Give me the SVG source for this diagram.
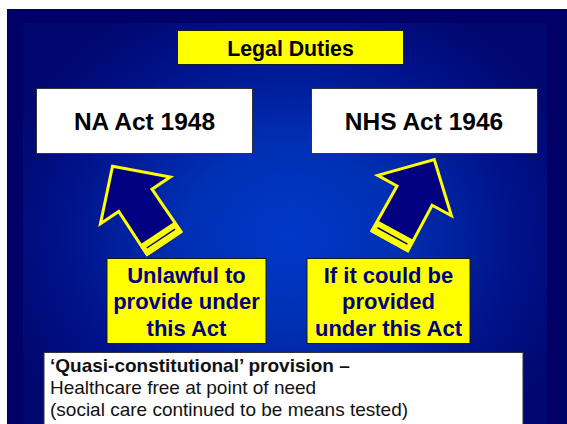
<svg xmlns="http://www.w3.org/2000/svg" width="567" height="424" viewBox="0 0 567 424">
  <defs>
    <radialGradient id="bg" gradientUnits="userSpaceOnUse" cx="290" cy="235" r="300" gradientTransform="translate(290 235) scale(1 0.85) translate(-290 -235)">
      <stop offset="0" stop-color="#0038c8"/>
      <stop offset="0.35" stop-color="#0030b4"/>
      <stop offset="0.75" stop-color="#00128a"/>
      <stop offset="1" stop-color="#000870"/>
    </radialGradient>
    <g id="arrow">
      <polygon points="0,1.5 42,42.5 20,42.5 20.5,94 -20.5,94 -20,42.5 -42,42.5" fill="#000080" stroke="#ffff00" stroke-width="3" stroke-linejoin="miter"/>
      <polygon points="-21.5,82 21.5,82 21.5,95.5 -21.5,95.5" fill="#ffff00"/>
      <line x1="-17" y1="88.5" x2="17" y2="88.5" stroke="#000080" stroke-width="1.5"/>
    </g>
  </defs>
  <style>
    .t { font-family: "Liberation Sans", Arial, sans-serif; font-weight: bold; text-anchor: middle; }
    .ybox { fill: #ffff00; stroke: #1a1a1a; stroke-width: 1; }
    .wbox { fill: #ffffff; stroke: #333333; stroke-width: 1; }
    .navy { fill: #000080; }
    .note { font-family: "Liberation Sans", Arial, sans-serif; font-size: 19px; fill: #111111; }
  </style>

  <rect x="0" y="0" width="567" height="424" fill="#ffffff"/>
  <rect x="7" y="9" width="560" height="415" fill="#000066"/>
  <rect x="23" y="23" width="524" height="401" fill="url(#bg)"/>

  <g id="title">
    <rect class="ybox" x="177.5" y="30.5" width="226" height="34"/>
    <text class="t" x="290.5" y="56" font-size="21.3" fill="#000000">Legal Duties</text>
  </g>

  <g id="na-act">
    <rect class="wbox" x="36.5" y="88.5" width="216" height="65"/>
    <text class="t" x="144.5" y="129.5" font-size="24.5" fill="#000000">NA Act 1948</text>
  </g>

  <g id="nhs-act">
    <rect class="wbox" x="311.5" y="88.5" width="226" height="65"/>
    <text class="t" x="424" y="129.5" font-size="24.5" fill="#000000">NHS Act 1946</text>
  </g>

  <g id="connectors">
    <use href="#arrow" transform="translate(111.7 165) rotate(-33.8)"/>
    <use href="#arrow" transform="translate(435 158.3) rotate(28.7)"/>
  </g>

  <g id="unlawful">
    <rect class="ybox" x="107" y="258.5" width="159" height="85"/>
    <text class="t navy" x="186.5" y="282.5" font-size="22">Unlawful to</text>
    <text class="t navy" x="186.5" y="309" font-size="22">provide under</text>
    <text class="t navy" x="186.5" y="335.5" font-size="22">this Act</text>
  </g>

  <g id="could-be">
    <rect class="ybox" x="307" y="258.5" width="163" height="85"/>
    <text class="t navy" x="388.5" y="282.5" font-size="22">If it could be</text>
    <text class="t navy" x="388.5" y="309" font-size="22">provided</text>
    <text class="t navy" x="388.5" y="335.5" font-size="22">under this Act</text>
  </g>

  <g id="provision">
    <rect class="wbox" x="44" y="352.5" width="479" height="80"/>
    <text class="note" x="50" y="372" font-weight="bold">‘Quasi-constitutional’ provision –</text>
    <text class="note" x="50" y="394">Healthcare free at point of need</text>
    <text class="note" x="50" y="416">(social care continued to be means tested)</text>
  </g>
</svg>
